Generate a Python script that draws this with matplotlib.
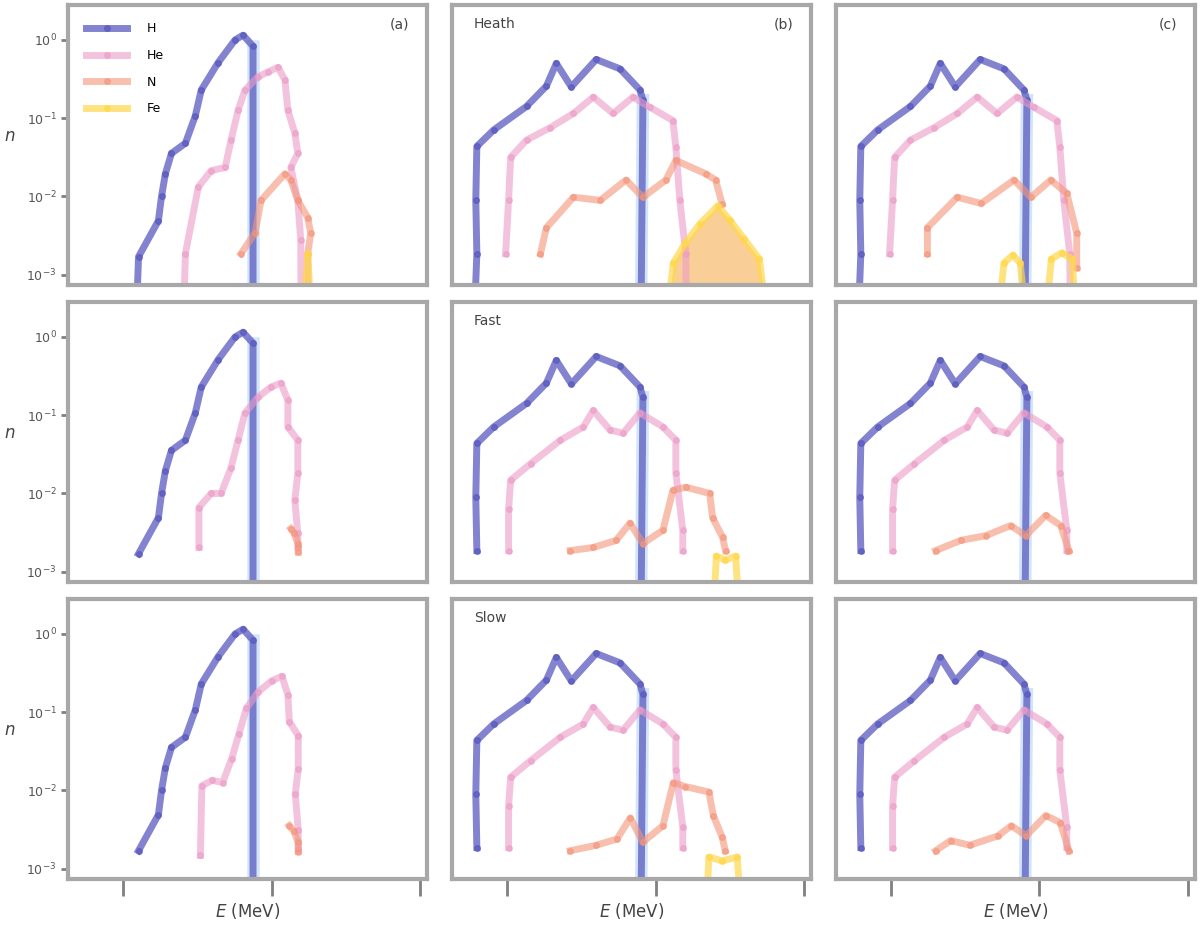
import matplotlib.pyplot as plt
import numpy as np

# all values as log10(x), log10(y); -4 = below the axis (zero)
species = ["H", "He", "N", "Fe"]
colors = ["#5a5ac0", "#ec9cc8", "#f4957a", "#ffd84a"]
alphas = [0.75, 0.6, 0.6, 0.7]
panel_tags = ["(a)", "(b)", "(c)"]
row_names = ["Heath", "Fast", "Slow"]

# column 1
blue_c1_x = [0.08, 0.103, 0.237, 0.258, 0.284, 0.325, 0.419, 0.486, 0.526, 0.64, 0.754, 0.808, 0.875, 0.875]
blue_c1_y = [-4, -2.77, -2.31, -2.0, -1.71, -1.45, -1.32, -0.97, -0.64, -0.29, 0.0, 0.06, -0.08, -4]

pink_a_x = [0.40, 0.419, 0.506, 0.593, 0.687, 0.727, 0.774, 0.821, 0.909, 0.976, 1.043, 1.09, 1.11, 1.157, 1.177, 1.13, 1.177, 1.197, 1.2]
pink_a_y = [-4, -2.73, -1.88, -1.67, -1.63, -1.28, -0.90, -0.64, -0.47, -0.41, -0.35, -0.51, -0.90, -1.19, -1.45, -1.63, -2.05, -2.56, -4]
pink_d_x = [0.51, 0.51, 0.593, 0.66, 0.727, 0.774, 0.821, 0.909, 0.996, 1.063, 1.11, 1.11, 1.177, 1.177, 1.157, 1.177, 1.177]
pink_d_y = [-2.69, -2.18, -2.0, -2.0, -1.67, -1.32, -0.97, -0.77, -0.64, -0.59, -0.81, -1.15, -1.32, -1.74, -2.09, -2.51, -2.69]
pink_g_x = [0.52, 0.53, 0.60, 0.67, 0.73, 0.78, 0.83, 0.91, 1.0, 1.07, 1.11, 1.12, 1.18, 1.18, 1.16, 1.18, 1.18]
pink_g_y = [-2.83, -1.94, -1.87, -1.9, -1.6, -1.28, -0.95, -0.74, -0.6, -0.54, -0.78, -1.12, -1.3, -1.72, -2.05, -2.5, -2.75]

salmon_a_x = [0.794, 0.888, 0.929, 1.09, 1.13, 1.177, 1.244, 1.264, 1.244, 1.25]
salmon_a_y = [-2.73, -2.47, -2.05, -1.71, -1.79, -2.05, -2.27, -2.47, -2.73, -4]
salmon_d_x = [1.13, 1.15, 1.18, 1.18]
salmon_d_y = [-2.45, -2.5, -2.65, -2.75]
salmon_g_x = [1.12, 1.15, 1.18, 1.18]
salmon_g_y = [-2.45, -2.52, -2.66, -2.78]

yellow_a_x = [1.2, 1.244, 1.28]
yellow_a_y = [-4, -2.73, -4]

# columns 2 and 3
blue_c23_x = [-0.23, -0.205, -0.212, -0.205, -0.091, 0.13, 0.264, 0.331, 0.432, 0.60, 0.761, 0.895, 0.915, 0.9]
blue_c23_y = [-4, -2.73, -2.05, -1.36, -1.15, -0.85, -0.59, -0.30, -0.60, -0.25, -0.37, -0.64, -0.77, -4]

pink_hi_x = [-0.011, 0.009, 0.023, 0.13, 0.291, 0.446, 0.58, 0.714, 0.848, 0.962, 1.117, 1.137, 1.164, 1.204, 1.21]
pink_hi_y = [-2.73, -2.05, -1.5, -1.28, -1.12, -0.94, -0.73, -0.94, -0.73, -0.86, -1.03, -1.37, -2.05, -2.73, -4]
pink_lo_x = [0.009, 0.009, 0.023, 0.157, 0.358, 0.513, 0.58, 0.694, 0.781, 0.895, 1.05, 1.137, 1.137, 1.184, 1.184]
pink_lo_y = [-2.73, -2.2, -1.83, -1.62, -1.32, -1.15, -0.94, -1.19, -1.23, -0.97, -1.15, -1.32, -1.74, -2.47, -2.73]

salmon_b_x = [0.224, 0.264, 0.446, 0.627, 0.801, 0.915, 1.07, 1.137, 1.338, 1.405, 1.45]
salmon_b_y = [-2.73, -2.4, -2.01, -2.05, -1.79, -2.01, -1.79, -1.54, -1.71, -1.79, -2.1]
salmon_e_x = [0.425, 0.58, 0.734, 0.828, 0.915, 1.05, 1.117, 1.204, 1.365, 1.385, 1.452, 1.472]
salmon_e_y = [-2.73, -2.69, -2.6, -2.38, -2.64, -2.47, -1.96, -1.92, -2.0, -2.31, -2.56, -2.73]
salmon_h_x = [0.425, 0.6, 0.74, 0.83, 0.915, 1.05, 1.12, 1.2, 1.36, 1.39, 1.45, 1.47]
salmon_h_y = [-2.77, -2.7, -2.62, -2.35, -2.66, -2.45, -1.9, -1.95, -2.02, -2.32, -2.6, -2.77]
salmon_c_x = [0.244, 0.244, 0.445, 0.607, 0.828, 0.942, 1.076, 1.184, 1.251, 1.251]
salmon_c_y = [-2.73, -2.4, -2.01, -2.09, -1.79, -2.01, -1.79, -1.96, -2.47, -2.91]
salmon_f_x = [0.30, 0.468, 0.637, 0.806, 0.907, 1.042, 1.143, 1.198]
salmon_f_y = [-2.73, -2.6, -2.54, -2.41, -2.54, -2.28, -2.41, -2.73]
salmon_i_x = [0.30, 0.40, 0.53, 0.72, 0.81, 0.91, 1.042, 1.14, 1.198]
salmon_i_y = [-2.77, -2.64, -2.7, -2.58, -2.45, -2.58, -2.32, -2.41, -2.77]

yellow_b_x = [1.05, 1.12, 1.2, 1.3, 1.42, 1.5, 1.6, 1.7, 1.78]
yellow_b_y = [-4, -2.85, -2.6, -2.35, -2.12, -2.3, -2.55, -2.8, -4]
yellow_e_x = [1.38, 1.41, 1.47, 1.54, 1.58]
yellow_e_y = [-4, -2.8, -2.85, -2.8, -4]
yellow_h_x = [1.33, 1.36, 1.45, 1.55, 1.6]
yellow_h_y = [-4, -2.85, -2.9, -2.85, -4]
yellow_c_x = [0.70, 0.76, 0.82, 0.87, 0.93, 1.02, 1.08, 1.15, 1.22, 1.26]
yellow_c_y = [-4, -2.85, -2.75, -2.85, -4, -4, -2.8, -2.72, -2.8, -4]

panels = [
    [(blue_c1_x, blue_c1_y), (pink_a_x, pink_a_y), (salmon_a_x, salmon_a_y), (yellow_a_x, yellow_a_y)],
    [(blue_c23_x, blue_c23_y), (pink_hi_x, pink_hi_y), (salmon_b_x, salmon_b_y), (yellow_b_x, yellow_b_y)],
    [(blue_c23_x, blue_c23_y), (pink_hi_x, pink_hi_y), (salmon_c_x, salmon_c_y), (yellow_c_x, yellow_c_y)],
    [(blue_c1_x[1:], blue_c1_y[1:]), (pink_d_x, pink_d_y), (salmon_d_x, salmon_d_y), None],
    [(blue_c23_x[1:], blue_c23_y[1:]), (pink_lo_x, pink_lo_y), (salmon_e_x, salmon_e_y), (yellow_e_x, yellow_e_y)],
    [(blue_c23_x[1:], blue_c23_y[1:]), (pink_lo_x, pink_lo_y), (salmon_f_x, salmon_f_y), None],
    [(blue_c1_x[1:], blue_c1_y[1:]), (pink_g_x, pink_g_y), (salmon_g_x, salmon_g_y), None],
    [(blue_c23_x[1:], blue_c23_y[1:]), (pink_lo_x, pink_lo_y), (salmon_h_x, salmon_h_y), (yellow_h_x, yellow_h_y)],
    [(blue_c23_x[1:], blue_c23_y[1:]), (pink_lo_x, pink_lo_y), (salmon_i_x, salmon_i_y), None],
]

fig, axes = plt.subplots(3, 3, figsize=(12, 9.36), dpi=100)
fig.subplots_adjust(left=0.057, right=0.996, top=0.995, bottom=0.061, wspace=0.07, hspace=0.06)

for k, ax in enumerate(axes.flat):
    r, c = divmod(k, 3)
    for j, cur in enumerate(panels[k]):
        if cur is None:
            continue
        x = np.power(10.0, cur[0])
        y = np.power(10.0, cur[1])
        if j == 0:
            # pale edge on the cut-off drop
            ax.plot(x[-2:], y[-2:], color="#b4d4f4", lw=9, alpha=0.6, zorder=1)
        if j == 3 and k == 1:
            ax.fill_between(x, 1e-4, y, color="#f5a742", alpha=0.55, lw=0, zorder=1)
        ax.plot(x, y, color=colors[j], lw=5, alpha=alphas[j], marker="o", ms=4,
                label=species[j], zorder=2 + j * 0.1)

    ax.set_xscale("log")
    ax.set_yscale("log")
    ax.set_xlim(10 ** -0.37, 10 ** 2.05)
    ax.set_ylim(10 ** -3.13, 10 ** 0.45)
    ax.set_xticks([1, 10, 100])
    ax.set_yticks([1e-3, 1e-2, 1e-1, 1])
    ax.minorticks_off()
    for s in ax.spines.values():
        s.set_color("#a8a8a8")
        s.set_linewidth(3)
    ax.tick_params(colors="#808080", width=2, length=5, labelsize=9, labelcolor="#555555")
    ax.tick_params(axis="x", length=12 if r == 2 else 0, labelbottom=False)
    if c == 0:
        ax.set_yticklabels(["$10^{-3}$", "$10^{-2}$", "$10^{-1}$", "$10^{0}$"])
        ax.set_ylabel("$n$", fontsize=12, color="#444444", rotation=0, labelpad=12)
    else:
        ax.tick_params(axis="y", length=0, labelleft=False)
    if r == 0:
        ax.text(0.95, 0.93, panel_tags[c], transform=ax.transAxes, ha="right", va="center",
                fontsize=10, color="#444444")
    if c == 1:
        ax.text(0.06, 0.93, row_names[r], transform=ax.transAxes, ha="left", va="center",
                fontsize=10, color="#444444")
    if r == 2:
        ax.set_xlabel("$E$ (MeV)", fontsize=12, color="#444444", labelpad=4)

axes[0, 0].legend(loc="upper left", frameon=False, fontsize=9, labelspacing=1.1,
                  handlelength=3.3, handletextpad=1.6, borderaxespad=1.0)

plt.savefig("out.png", dpi=100)
